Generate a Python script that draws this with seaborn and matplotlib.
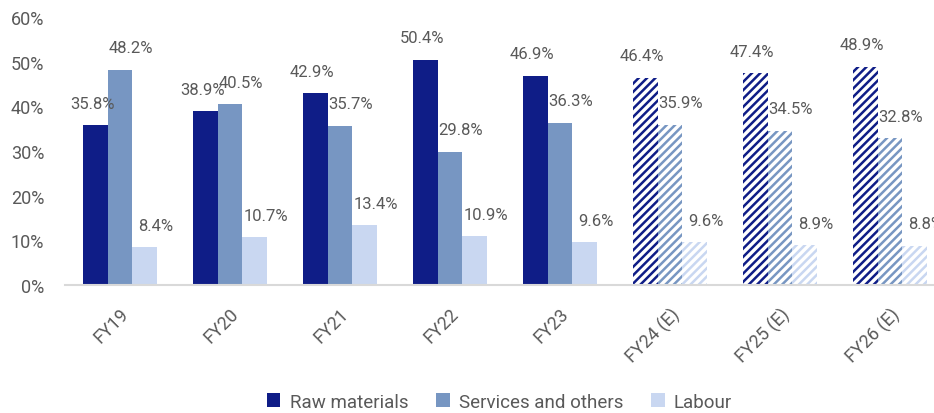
import matplotlib
matplotlib.use("Agg")
import matplotlib.pyplot as plt
from matplotlib.patches import Patch
from matplotlib.ticker import FuncFormatter
import seaborn as sns
import pandas as pd

years = ["FY19", "FY20", "FY21", "FY22", "FY23", "FY24 (E)", "FY25 (E)", "FY26 (E)"]
raw_materials = [35.8, 38.9, 42.9, 50.4, 46.9, 46.4, 47.4, 48.9]
services_others = [48.2, 40.5, 35.7, 29.8, 36.3, 35.9, 34.5, 32.8]
labour = [8.4, 10.7, 13.4, 10.9, 9.6, 9.6, 8.9, 8.8]
series_names = ["Raw materials", "Services and others", "Labour"]
estimate_years = ["FY24 (E)", "FY25 (E)", "FY26 (E)"]

colors = ["#0F1D87", "#7796C2", "#C9D7F1"]
text_gray = "#595959"

df = pd.DataFrame({
    "year": years * 3,
    "share": raw_materials + services_others + labour,
    "series": [s for s in series_names for _ in years],
})

sns.set_theme(style="white")
plt.rcParams["font.family"] = ["Roboto", "DejaVu Sans"]
plt.rcParams["hatch.linewidth"] = 1.8

fig = plt.figure(figsize=(9.34, 4.14), dpi=100)
ax = fig.add_axes([65 / 934, 1 - 286 / 414, (934 - 65) / 934, (286 - 18) / 414])

sns.barplot(data=df, x="year", y="share", hue="series", order=years,
            hue_order=series_names, palette=colors, width=0.67,
            saturation=1, legend=False, ax=ax, linewidth=0)

# value labels sit above each bar, nudged right for the two lighter series
label_shift = [-0.03, 0.1, 0.1]
for k, container in enumerate(ax.containers):
    for i, bar in enumerate(container.patches):
        if years[i] in estimate_years:
            bar.set_facecolor("white")
            bar.set_edgecolor(colors[k])
            bar.set_hatch("////")
            bar.set_linewidth(0)
        h = bar.get_height()
        ax.annotate(f"{h:.1f}%",
                    (bar.get_x() + bar.get_width() / 2 + label_shift[k], h),
                    xytext=(0, 10.5), textcoords="offset points",
                    ha="center", va="bottom", fontsize=12, color=text_gray,
                    annotation_clip=False)

ax.set_ylim(0, 60)
ax.set_xlim(-0.5, 7.4)
ax.set_yticks(range(0, 61, 10))
ax.yaxis.set_major_formatter(FuncFormatter(lambda v, _: f"{v:.0f}%"))
ax.set_xlabel("")
ax.set_ylabel("")
for side in ["top", "right", "left"]:
    ax.spines[side].set_visible(False)
ax.spines["bottom"].set_color("#D9D9D9")
ax.spines["bottom"].set_linewidth(1.5)
ax.tick_params(axis="y", length=0, labelsize=13, labelcolor=text_gray, pad=15)
ax.tick_params(axis="x", length=0, labelsize=13, labelcolor=text_gray, pad=14)
for lbl in ax.get_xticklabels():
    lbl.set_rotation(45)
    lbl.set_ha("right")
    lbl.set_rotation_mode("anchor")

handles = [Patch(facecolor=c, edgecolor="none") for c in colors]
fig.legend(handles, series_names, loc="lower center", bbox_to_anchor=(0.535, -0.035),
           ncol=3, frameon=False, fontsize=13.5, labelcolor=text_gray,
           handlelength=0.7, handleheight=0.7, columnspacing=1.5, handletextpad=0.5)

fig.savefig("out.png", dpi=100)
